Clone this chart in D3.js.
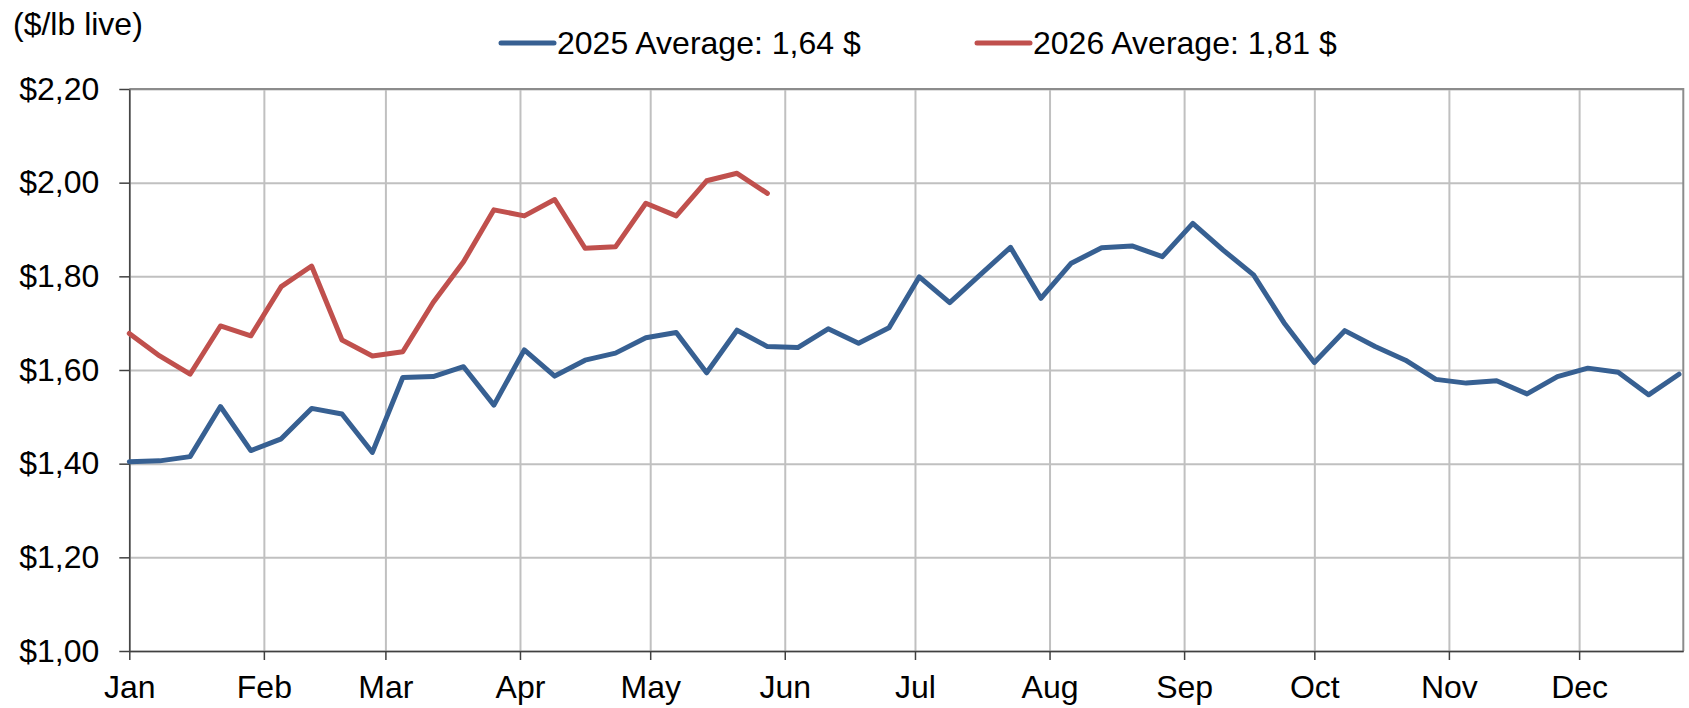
<!DOCTYPE html>
<html>
<head>
<meta charset="utf-8">
<script src="https://cdn.jsdelivr.net/npm/d3@7"></script>
<style>
  html, body { margin: 0; padding: 0; background: #fff; }
  svg { display: block; font-family: "Liberation Sans", Arial, sans-serif; }
</style>
</head>
<body>
<div id="chart"></div>
<script>
// weekly live cattle price ($/lb live), one value per week starting Jan 1
const SERIES_NAMES = ["2025 Average: 1,64 $", "2026 Average: 1,81 $"];
const SERIES_COLORS = ["#376092", "#c0504d"];

const PRICES_2025 = [
  1.404, 1.406, 1.415, 1.522, 1.428, 1.453, 1.518, 1.506, 1.424, 1.584,
  1.586, 1.607, 1.525, 1.643, 1.587, 1.621, 1.636, 1.669, 1.680, 1.594,
  1.685, 1.650, 1.648, 1.688, 1.657, 1.690, 1.799, 1.744, 1.803, 1.862,
  1.753, 1.828, 1.861, 1.865, 1.842, 1.913, 1.856, 1.803, 1.701, 1.616,
  1.684, 1.650, 1.621, 1.580, 1.572, 1.577, 1.549, 1.586, 1.604, 1.595,
  1.547, 1.591
];
const PRICES_2026 = [
  1.678, 1.630, 1.591, 1.694, 1.673, 1.778, 1.822, 1.664, 1.630, 1.639,
  1.744, 1.831, 1.942, 1.929, 1.964, 1.860, 1.863, 1.956, 1.929, 2.004,
  2.020, 1.977
];
const Y_TICKS = [1.0, 1.2, 1.4, 1.6, 1.8, 2.0, 2.2];
const Y_LABEL = "($/lb live)";

const width = 1689;
const height = 708;
const margin = { left: 129.3, top: 89, right: 5.7, bottom: 57 };
const innerW = width - margin.left - margin.right;
const innerH = height - margin.top - margin.bottom;
const fontSize = 32;

////////////////////////////////////////////////////////////
/////////////////////// Scales /////////////////////////////
////////////////////////////////////////////////////////////

const start = new Date(Date.UTC(2025, 0, 1));
const end = new Date(Date.UTC(2025, 11, 25));
const weekDate = i => d3.utcDay.offset(start, 7 * i);

const x = d3.scaleUtc().domain([start, end]).range([0, innerW]);
const y = d3.scaleLinear().domain([1.0, 2.2]).range([innerH, 0]);

const months = d3.utcMonth.range(start, end);
const locale = d3.formatLocale({ decimal: ",", thousands: ".", grouping: [3], currency: ["$", ""] });
const fmtPrice = locale.format("$.2f");

////////////////////////////////////////////////////////////
////////////////////// Create SVG //////////////////////////
////////////////////////////////////////////////////////////

const root = d3.select("#chart").append("svg")
  .attr("width", width)
  .attr("height", height);

const svg = root.append("g")
  .attr("transform", `translate(${margin.left},${margin.top})`);

// grid lines
svg.append("g")
  .call(d3.axisLeft(y).tickValues(Y_TICKS).tickSize(-innerW).tickFormat(""))
  .call(g => g.select(".domain").remove())
  .call(g => g.selectAll("line").attr("stroke", "#c0c0c0").attr("stroke-width", 2));

svg.append("g")
  .call(d3.axisBottom(x).tickValues(months).tickSize(innerH).tickFormat(""))
  .call(g => g.select(".domain").remove())
  .call(g => g.selectAll("line").attr("stroke", "#c0c0c0").attr("stroke-width", 2));

// plot area border (top and right)
svg.append("path")
  .attr("d", `M0,0H${innerW}V${innerH}`)
  .attr("fill", "none")
  .attr("stroke", "#8c8c8c")
  .attr("stroke-width", 2);

////////////////////////////////////////////////////////////
/////////////////////// Axes ///////////////////////////////
////////////////////////////////////////////////////////////

svg.append("g")
  .call(d3.axisLeft(y).tickValues(Y_TICKS).tickSize(10).tickPadding(20).tickFormat(fmtPrice).tickSizeOuter(0))
  .call(g => g.selectAll("line, .domain").attr("stroke", "#404040").attr("stroke-width", 1.5))
  .call(g => g.selectAll("text").attr("font-size", fontSize).attr("fill", "#000"));

svg.append("g")
  .attr("transform", `translate(0,${innerH})`)
  .call(d3.axisBottom(x).tickValues(months).tickSize(9).tickPadding(15).tickFormat(d3.utcFormat("%b")).tickSizeOuter(0))
  .call(g => g.selectAll("line, .domain").attr("stroke", "#404040").attr("stroke-width", 1.5))
  .call(g => g.selectAll("text").attr("font-size", fontSize).attr("fill", "#000"));

////////////////////////////////////////////////////////////
/////////////////////// Lines //////////////////////////////
////////////////////////////////////////////////////////////

const line = d3.line()
  .x((d, i) => x(weekDate(i)))
  .y(d => y(d));

[PRICES_2025, PRICES_2026].forEach((values, k) => {
  svg.append("path")
    .datum(values)
    .attr("fill", "none")
    .attr("stroke", SERIES_COLORS[k])
    .attr("stroke-width", 5)
    .attr("stroke-linejoin", "round")
    .attr("stroke-linecap", "round")
    .attr("d", line);
});

////////////////////////////////////////////////////////////
////////////////////// Legend / title //////////////////////
////////////////////////////////////////////////////////////

root.append("text")
  .attr("x", 13)
  .attr("y", 35)
  .attr("font-size", fontSize)
  .text(Y_LABEL);

const legendX = [501, 977];
const legend = root.selectAll("g.legend")
  .data(SERIES_NAMES)
  .enter().append("g")
  .attr("class", "legend")
  .attr("transform", (d, i) => `translate(${legendX[i]},43)`);

legend.append("line")
  .attr("x1", 0).attr("x2", 53)
  .attr("stroke", (d, i) => SERIES_COLORS[i])
  .attr("stroke-width", 5)
  .attr("stroke-linecap", "round");

legend.append("text")
  .attr("x", 56)
  .attr("y", 11)
  .attr("font-size", fontSize)
  .text(d => d);
</script>
</body>
</html>
